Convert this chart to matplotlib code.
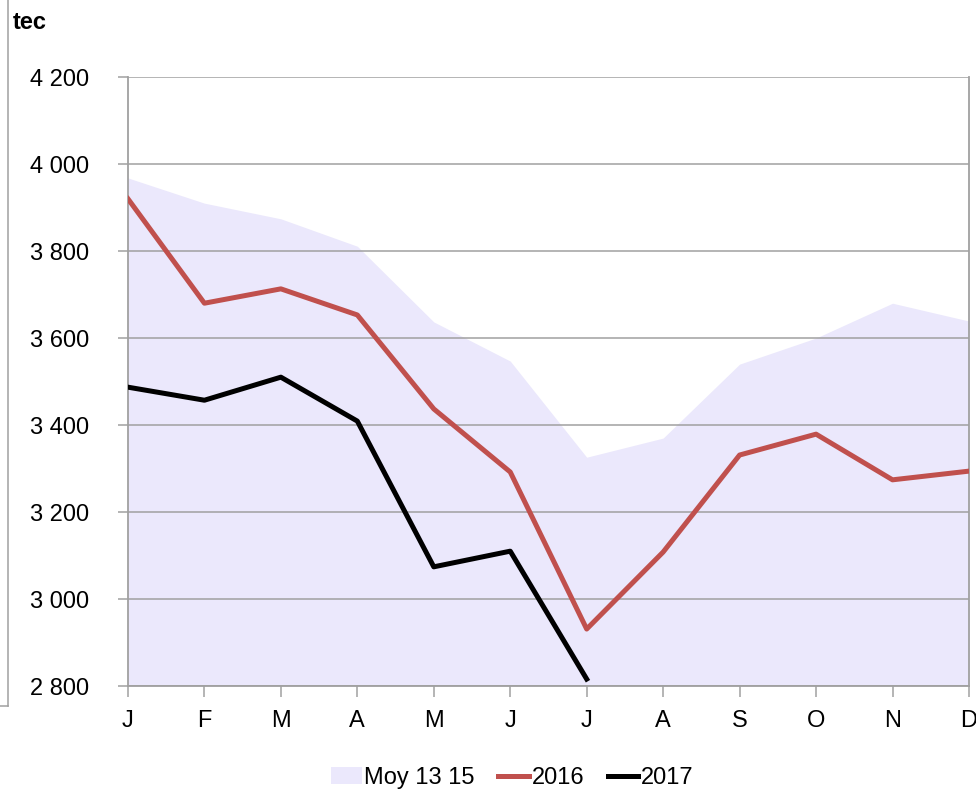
import matplotlib
matplotlib.use('Agg')
import matplotlib.pyplot as plt
from matplotlib.lines import Line2D
from matplotlib.ticker import FuncFormatter

plt.rcParams['font.family'] = ['Liberation Sans Narrow', 'Liberation Sans', 'DejaVu Sans']

months = ['J', 'F', 'M', 'A', 'M', 'J', 'J', 'A', 'S', 'O', 'N', 'D']
moy_13_15 = [3968, 3910, 3874, 3811, 3637, 3547, 3326, 3370, 3540, 3600, 3680, 3639]
y2016 = [3920, 3680, 3713, 3653, 3437, 3292, 2931, 3108, 3331, 3379, 3274, 3294]
y2017 = [3487, 3457, 3510, 3409, 3074, 3110, 2816]

x = list(range(len(months)))

fig = plt.figure(figsize=(9.76, 7.93), dpi=100)
ax = fig.add_axes([0.1311, 0.1349, 0.8617, 0.768])

ax.fill_between(x, 2800, moy_13_15, color='#ebe8fc', linewidth=0, label='Moy 13 15', zorder=1)
ax.plot(x, y2016, color='#c0504d', linewidth=3.6, label='2016', zorder=3)
ax.plot(x[:len(y2017)], y2017, color='black', linewidth=3.6, label='2017', zorder=4)

ax.set_xlim(0, 11)
ax.set_ylim(2800, 4200)
ax.set_yticks(range(2800, 4201, 200))
ax.set_xticks(x)
ax.set_xticklabels(months)
ax.yaxis.set_major_formatter(FuncFormatter(lambda v, _: f'{int(v):,}'.replace(',', ' ')))

ax.grid(axis='y', color='#a0a0a0', linewidth=1.1, zorder=2)
ax.set_axisbelow(False)
ax.tick_params(axis='y', length=7, width=1.1, color='#a0a0a0', labelsize=17, pad=21)
ax.tick_params(axis='x', length=8, width=1.1, color='#a0a0a0', labelsize=17, pad=9)

for side in ['left', 'bottom', 'right']:
    ax.spines[side].set_color('#a0a0a0')
    ax.spines[side].set_linewidth(1.3)
ax.spines['top'].set_visible(False)

fig.text(0.013, 0.972, 'tec', fontsize=17, fontweight='bold', va='center', ha='left')

# outer frame piece at the left
fig.add_artist(Line2D([0.0082, 0.0082], [1.0, 0.11], color='#a0a0a0', linewidth=1.1))
fig.add_artist(Line2D([0.0, 0.0082], [0.11, 0.11], color='#a0a0a0', linewidth=1.1))

fig.legend(loc='center', bbox_to_anchor=(0.525, 0.019), ncol=3, frameon=False,
           fontsize=17, handlelength=1.3, handletextpad=0.1, columnspacing=1.0)

fig.savefig('out.png', dpi=100)
